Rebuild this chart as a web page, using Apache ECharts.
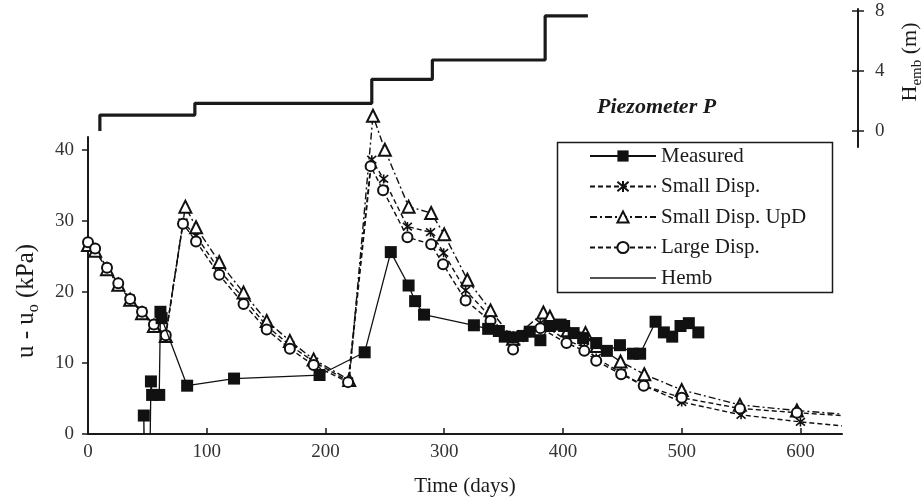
<!DOCTYPE html>
<html>
<head>
<meta charset="utf-8">
<script src="https://cdn.jsdelivr.net/npm/echarts@6/dist/echarts.min.js"></script>
<style>html,body{margin:0;padding:0;background:#fff}#c{width:923px;height:502px}</style>
</head>
<body>
<div id="c"></div>
<script>
// ---- data ----
const xTicks = [0, 100, 200, 300, 400, 500, 600];
const yTicks = [0, 10, 20, 30, 40];
const hTicks = [0, 4, 8];

const measured = [
  [48,-30],[47,2.6],[50,-30],[53,7.4],[54,5.5],[60,5.5],[61,17.2],[62,16.3],[83.5,6.8],
  [123,7.8],[195,8.3],[233,11.5],[255,25.6],[270,20.9],[275.5,18.7],[283,16.8],
  [325,15.3],[337,14.8],[346,14.5],[351,13.7],[358,13.6],[366,13.8],[372,14.4],
  [381,13.2],[389,15.2],[398,15.4],[401,15.2],[409,14.2],[417,13.5],[428,12.8],
  [437,11.7],[448,12.5],[459,11.3],[465,11.3],[478,15.8],[485,14.3],[492,13.7],
  [499,15.2],[506,15.6],[514,14.3]
];
const smallDisp = [
  [0,26.8],[6,25.9],[16,23.4],[25.5,21.2],[35.5,19.1],[45.5,17.3],[55.5,15.3],[65.5,13.9],
  [80,29.8],[91,27.9],[110.5,23.1],[131,19.1],[150.5,15.2],[170,12.5],[190,10.2],[219.5,7.4],
  [239,38.6],[249,35.9],[269,29.2],[288.5,28.4],[299.5,25.5],[318,20.2],[339,16.5],[358,12.7],
  [381,15.6],[403,13.2],[418,12.2],[428,10.7],[449,8.6],[468,6.8],[500,4.5],[550,2.7],
  [600,1.7],[635,1.15]
];
const smallDispUpD = [
  [0,26.6],[6,25.8],[16,23.2],[25.5,21.0],[35.5,18.9],[45.5,17.0],[55.5,15.2],[65.5,13.8],
  [82,32.0],[91,29.1],[110.5,24.2],[131,19.9],[150.5,15.9],[170,13.1],[190,10.5],[220,7.6],
  [240,44.8],[250,40.0],[270,32.0],[289,31.1],[300,28.1],[319.5,21.7],[339,17.4],[358,13.4],
  [383.5,17.1],[389,16.5],[404,14.6],[419,14.2],[428.5,12.4],[448.5,10.2],[468.5,8.4],
  [500,6.2],[549,4.1],[597,3.3],[635,2.8]
];
const largeDisp = [
  [0,27.0],[6,26.1],[16,23.4],[25.5,21.2],[35.5,19.0],[45.5,17.2],[55.5,15.4],[65.5,13.9],
  [80,29.6],[91,27.1],[110.5,22.4],[131,18.3],[150.5,14.7],[170,12.0],[190,9.7],[219,7.3],
  [238,37.7],[248.5,34.3],[269,27.7],[289,26.7],[299,23.9],[318,18.8],[339,15.9],[358,11.9],
  [381,14.9],[403,12.8],[418,11.7],[428,10.3],[449,8.4],[468,6.8],[500,5.1],[549,3.6],
  [597,3.0],[635,2.6]
];
const hemb = [
  [10,0],[10,1.06],[90,1.06],[90,1.84],[239,1.84],[239,3.44],[290,3.44],[290,4.72],
  [385,4.72],[385,7.65],[421,7.65]
];

// the last value of each model curve is the line's end at the axis edge: no marker there
function curve(arr) {
  return arr.map((p, i) => i === arr.length - 1 ? {value: p, symbol: 'none'} : p);
}

// ---- chart ----
const FONT = 'Liberation Serif';
const INK = '#1a1a1a';
const chart = echarts.init(document.getElementById('c'), null, {renderer: 'canvas'});
const star = 'path://M0,0L10,10M10,0L0,10M5,-1L5,11';

chart.setOption({
  animation: false,
  backgroundColor: '#fff',
  title: {
    text: 'Piezometer P', left: 592, top: 91,
    textStyle: {fontFamily: FONT, fontSize: 22, fontStyle: 'italic', fontWeight: 'bold', color: INK}
  },
  grid: [
    {left: 88, right: 81, top: 137, bottom: 67, containLabel: false},
    {left: 88, right: 81, top: 9, bottom: 355, containLabel: false},
    {left: 88, right: 81, top: 9, bottom: 355, containLabel: false}
  ],
  xAxis: [
    {
      type: 'value', gridIndex: 0, min: 0, max: 635,
      name: 'Time (days)', nameLocation: 'middle', nameGap: 42,
      nameTextStyle: {fontFamily: FONT, fontSize: 21, color: INK},
      axisLine: {onZero: false, lineStyle: {color: INK, width: 2}},
      axisTick: {inside: true, length: 6, lineStyle: {color: INK, width: 1.5}, customValues: xTicks},
      axisLabel: {customValues: xTicks, fontFamily: FONT, fontSize: 19, color: '#333', margin: 9},
      splitLine: {show: false}
    },
    {type: 'value', gridIndex: 1, min: 0, max: 635, show: false},
    {type: 'value', gridIndex: 2, min: 0, max: 635, show: false}
  ],
  yAxis: [
    {
      type: 'value', gridIndex: 0, min: 0, max: 41.8,
      axisLine: {show: true, onZero: false, lineStyle: {color: INK, width: 2}},
      axisTick: {show: true, length: 6, lineStyle: {color: INK, width: 1.5}, customValues: yTicks},
      axisLabel: {customValues: yTicks, fontFamily: FONT, fontSize: 19, color: '#333', margin: 14},
      splitLine: {show: false}
    },
    {
      type: 'value', gridIndex: 1, min: -1.06, max: 8.11, position: 'right', offset: 16,
      axisLine: {show: true, onZero: false, lineStyle: {color: INK, width: 2}},
      axisTick: {show: true, length: 6, lineStyle: {color: INK, width: 1.5}, customValues: hTicks},
      axisLabel: {customValues: hTicks, fontFamily: FONT, fontSize: 19, color: '#333', margin: 17},
      splitLine: {show: false}
    },
    {
      type: 'value', gridIndex: 2, min: -1.06, max: 8.11, position: 'right', offset: 16,
      axisLine: {show: false, onZero: false},
      axisTick: {show: true, inside: true, length: 6, lineStyle: {color: INK, width: 1.5}, customValues: hTicks},
      axisLabel: {show: false},
      splitLine: {show: false}
    }
  ],
  legend: {
    orient: 'vertical', left: 584, top: 140,
    itemWidth: 66, itemHeight: 14, itemGap: 8.5,
    textStyle: {fontFamily: FONT, fontSize: 21, color: INK, lineHeight: 22},
    data: ['Measured', 'Small Disp.', 'Small Disp. UpD', 'Large Disp.',
      {name: 'Hemb', itemStyle: {opacity: 0}, lineStyle: {width: 1.6}}]
  },
  graphic: [
    {type: 'rect', left: 555, top: 140, z: 0,
     shape: {width: 275, height: 150},
     style: {fill: 'none', stroke: INK, lineWidth: 1.5}},
    {type: 'text', x: 26, y: 301, rotation: Math.PI / 2,
     style: {
       text: '{a|u - u}{s|o}{a| (kPa)}', align: 'center', verticalAlign: 'middle',
       rich: {
         a: {fontFamily: FONT, fontSize: 25, fill: INK, lineHeight: 32, verticalAlign: 'middle'},
         s: {fontFamily: FONT, fontSize: 16, fill: INK, lineHeight: 16, verticalAlign: 'bottom'}
       }
     }},
    {type: 'text', x: 910, y: 62, rotation: Math.PI / 2,
     style: {
       text: '{a|H}{s|emb}{a| (m)}', align: 'center', verticalAlign: 'middle',
       rich: {
         a: {fontFamily: FONT, fontSize: 22, fill: INK, lineHeight: 30, verticalAlign: 'middle'},
         s: {fontFamily: FONT, fontSize: 15, fill: INK, lineHeight: 15, verticalAlign: 'bottom'}
       }
     }}
  ],
  series: [
    {
      name: 'Measured', type: 'line', xAxisIndex: 0, yAxisIndex: 0, data: measured,
      symbol: 'rect', symbolSize: 12, z: 5, clip: true,
      itemStyle: {color: '#111'},
      lineStyle: {color: '#111', width: 1.3, type: 'solid'}
    },
    {
      name: 'Small Disp.', type: 'line', xAxisIndex: 0, yAxisIndex: 0, data: curve(smallDisp),
      symbol: star, symbolSize: 9, z: 4, clip: false,
      itemStyle: {color: '#111', borderColor: '#111', borderWidth: 1.6},
      lineStyle: {color: '#111', width: 1.4, type: [5, 3]}
    },
    {
      name: 'Small Disp. UpD', type: 'line', xAxisIndex: 0, yAxisIndex: 0, data: curve(smallDispUpD),
      symbol: 'emptyTriangle', symbolSize: 12, z: 4, clip: false,
      itemStyle: {color: '#111', borderWidth: 1.8},
      lineStyle: {color: '#111', width: 1.4, type: [7, 3, 2, 3]}
    },
    {
      name: 'Large Disp.', type: 'line', xAxisIndex: 0, yAxisIndex: 0, data: curve(largeDisp),
      symbol: 'emptyCircle', symbolSize: 10, z: 4, clip: false,
      itemStyle: {color: '#111', borderWidth: 1.6},
      lineStyle: {color: '#111', width: 1.4, type: [5, 3]}
    },
    {
      name: 'Hemb', type: 'line', xAxisIndex: 1, yAxisIndex: 1, data: hemb,
      symbol: 'none', z: 3,
      itemStyle: {color: '#1a1a1a'},
      lineStyle: {color: '#1a1a1a', width: 3.2, type: 'solid'}
    }
  ]
});
</script>
</body>
</html>
